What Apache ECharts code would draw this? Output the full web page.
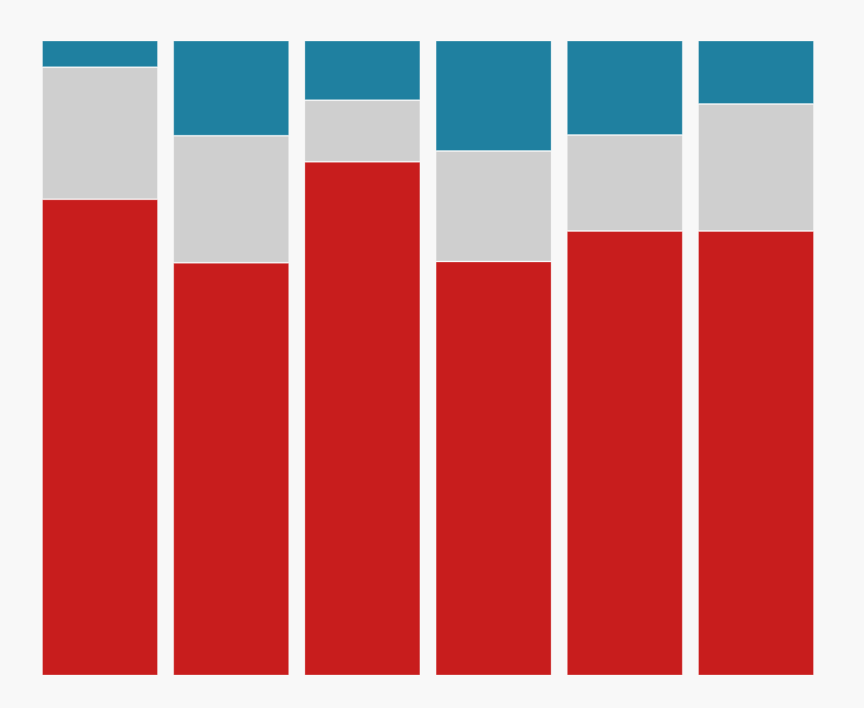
<!DOCTYPE html>
<html><head><meta charset="utf-8">
<script src="https://cdn.jsdelivr.net/npm/echarts@6/dist/echarts.min.js"></script>
<style>html,body{margin:0;padding:0;background:#f8f8f8}#c{width:864px;height:708px}</style>
</head><body><div id="c"></div>
<script>
const categories = ['1','2','3','4','5','6'];
const redValues = [75.0, 65.0, 80.9, 65.2, 70.0, 70.0];
const grayValues = [20.8, 20.0, 9.7, 17.4, 15.1, 20.0];
const blueValues = [4.2, 15.0, 9.4, 17.4, 14.9, 10.0];

const chart = echarts.init(document.getElementById('c'));
const border = {borderColor: 'rgba(255,255,255,0.3)', borderWidth: 1};
chart.setOption({
  backgroundColor: '#f8f8f8',
  animation: false,
  grid: {left: 34.4, right: 42.4, top: 40.5, bottom: 32.5},
  xAxis: {type: 'category', data: categories, show: false},
  yAxis: {type: 'value', min: 0, max: 100, show: false},
  series: [
    {type: 'bar', stack: 'a', data: redValues, barWidth: 116, itemStyle: Object.assign({color: '#c81d1d'}, border)},
    {type: 'bar', stack: 'a', data: grayValues, barWidth: 116, itemStyle: Object.assign({color: '#cfcfcf'}, border)},
    {type: 'bar', stack: 'a', data: blueValues, barWidth: 116, itemStyle: Object.assign({color: '#1f80a0'}, border)}
  ]
});
</script></body></html>
